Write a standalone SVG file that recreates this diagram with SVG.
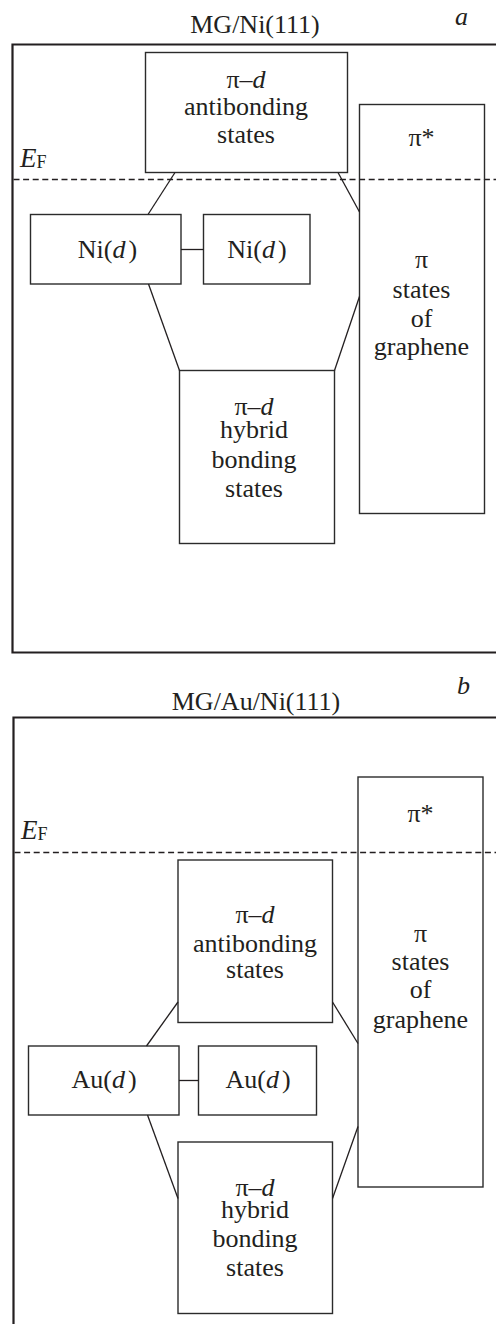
<svg xmlns="http://www.w3.org/2000/svg" width="496" height="1324" viewBox="0 0 496 1324">
  <style>
    text { font-family: "Liberation Serif", "Times New Roman", serif; font-size: 26px; fill: #231f20; text-anchor: middle; }
    .it { font-style: italic; }
    .lbl { text-anchor: start; }
    .box { fill: none; stroke: #2b2b2b; stroke-width: 1.4; }
    .frame { fill: none; stroke: #231f20; stroke-width: 2.2; }
    .ef { fill: none; stroke: #231f20; stroke-width: 1.3; stroke-dasharray: 6 3.6; }
    .link { fill: none; stroke: #231f20; stroke-width: 1.3; }
  </style>

  <!-- Panel a: MG/Ni(111) -->
  <g id="panel-a">
    <text x="255" y="33">MG/Ni(111)</text>
    <text class="it lbl" x="455" y="25">a</text>
    <path class="frame" d="M497,44.5 H12.5 V652.5 H497"/>
    <line class="ef" x1="13.5" y1="179.5" x2="496" y2="179.5"/>
    <text class="lbl" x="20" y="167"><tspan class="it" font-size="27">E</tspan><tspan font-size="18" dy="1">F</tspan></text>
  </g>

  <g id="a-antibonding">
    <rect class="box" x="145.5" y="52.5" width="202" height="120"/>
    <text x="246" y="88">π–<tspan class="it">d</tspan></text>
    <text x="246" y="115">antibonding</text>
    <text x="246" y="143">states</text>
  </g>

  <g id="a-graphene">
    <rect class="box" x="359.5" y="104.5" width="125" height="409"/>
    <text x="421.5" y="146">π*</text>
    <text x="421.5" y="268">π</text>
    <text x="421.5" y="298">states</text>
    <text x="421.5" y="327">of</text>
    <text x="421.5" y="355">graphene</text>
  </g>

  <g id="a-ni-d-1">
    <rect class="box" x="30.5" y="214.5" width="150.5" height="69.5"/>
    <text x="107.5" y="258">Ni(<tspan class="it">d</tspan><tspan dx="3">)</tspan></text>
  </g>

  <g id="a-ni-d-2">
    <rect class="box" x="203.5" y="214.5" width="106.5" height="69.5"/>
    <text x="257" y="258">Ni(<tspan class="it">d</tspan><tspan dx="3">)</tspan></text>
  </g>

  <g id="a-hybrid">
    <rect class="box" x="179.5" y="370.5" width="155" height="173"/>
    <text x="254" y="415">π–<tspan class="it">d</tspan></text>
    <text x="254" y="438">hybrid</text>
    <text x="254" y="468">bonding</text>
    <text x="254" y="497">states</text>
  </g>

  <g id="a-connectors">
    <line class="link" x1="175" y1="172.5" x2="148" y2="214.5"/>
    <line class="link" x1="338" y1="172.5" x2="359.5" y2="212"/>
    <line class="link" x1="181" y1="249.5" x2="203.5" y2="249.5"/>
    <line class="link" x1="148.5" y1="284" x2="179.5" y2="370.5"/>
    <line class="link" x1="334.5" y1="370.5" x2="359.5" y2="296.5"/>
  </g>

  <!-- Panel b: MG/Au/Ni(111) -->
  <g id="panel-b">
    <text x="256" y="710">MG/Au/Ni(111)</text>
    <text class="it lbl" x="457" y="694">b</text>
    <path class="frame" d="M497,717.5 H13.5 V1324"/>
    <line class="ef" x1="14.5" y1="852.5" x2="496" y2="852.5"/>
    <text class="lbl" x="21" y="839"><tspan class="it" font-size="27">E</tspan><tspan font-size="18" dy="1">F</tspan></text>
  </g>

  <g id="b-antibonding">
    <rect class="box" x="178" y="860" width="154.5" height="162.5"/>
    <text x="255" y="923">π–<tspan class="it">d</tspan></text>
    <text x="255" y="952">antibonding</text>
    <text x="255" y="978">states</text>
  </g>

  <g id="b-graphene">
    <rect class="box" x="358" y="777" width="125" height="410"/>
    <text x="420.5" y="822">π*</text>
    <text x="420.5" y="942">π</text>
    <text x="420.5" y="970">states</text>
    <text x="420.5" y="998">of</text>
    <text x="420.5" y="1028">graphene</text>
  </g>

  <g id="b-au-d-1">
    <rect class="box" x="28.5" y="1046" width="150.5" height="69"/>
    <text x="104" y="1088">Au(<tspan class="it">d</tspan><tspan dx="3">)</tspan></text>
  </g>

  <g id="b-au-d-2">
    <rect class="box" x="198.5" y="1046" width="118" height="69"/>
    <text x="258" y="1088">Au(<tspan class="it">d</tspan><tspan dx="3">)</tspan></text>
  </g>

  <g id="b-hybrid">
    <rect class="box" x="178" y="1142" width="154.5" height="171.5"/>
    <text x="255" y="1196">π–<tspan class="it">d</tspan></text>
    <text x="255" y="1218">hybrid</text>
    <text x="255" y="1247">bonding</text>
    <text x="255" y="1276">states</text>
  </g>

  <g id="b-connectors">
    <line class="link" x1="178" y1="1002" x2="146.5" y2="1046"/>
    <line class="link" x1="332.5" y1="1002" x2="358" y2="1043.5"/>
    <line class="link" x1="179" y1="1080.5" x2="198.5" y2="1080.5"/>
    <line class="link" x1="147.5" y1="1115" x2="178" y2="1198.5"/>
    <line class="link" x1="332.5" y1="1198.5" x2="358" y2="1126.5"/>
  </g>
</svg>
